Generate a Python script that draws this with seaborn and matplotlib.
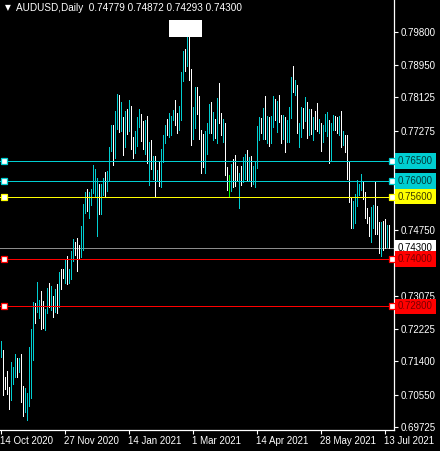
import numpy as np
import pandas as pd
import matplotlib
matplotlib.use("Agg")
import matplotlib.pyplot as plt
import matplotlib.transforms as mtransforms
from matplotlib.patches import Rectangle
import seaborn as sns

# Data (AUDUSD daily, high / low per bar)

highs = [
    0.7192, 0.7169, 0.7100, 0.7116, 0.7075, 0.7138, 0.7126, 0.7159, 0.7149, 0.7149,
    0.7159, 0.7077, 0.7072, 0.7059, 0.7177, 0.7223, 0.7291, 0.7289, 0.7342, 0.7296,
    0.7319, 0.7294, 0.7274, 0.7327, 0.7340, 0.7332, 0.7307, 0.7324, 0.7337, 0.7368,
    0.7375, 0.7375, 0.7398, 0.7409, 0.7375, 0.7421, 0.7452, 0.7444, 0.7454, 0.7437,
    0.7485, 0.7541, 0.7572, 0.7579, 0.7572, 0.7579, 0.7640, 0.7630, 0.7607, 0.7592,
    0.7592, 0.7607, 0.7622, 0.7625, 0.7686, 0.7742, 0.7742, 0.7778, 0.7821, 0.7819,
    0.7801, 0.7763, 0.7778, 0.7783, 0.7806, 0.7791, 0.7712, 0.7727, 0.7763, 0.7783,
    0.7770, 0.7752, 0.7755, 0.7765, 0.7699, 0.7704, 0.7663, 0.7663, 0.7628, 0.7648,
    0.7681, 0.7717, 0.7742, 0.7758, 0.7773, 0.7765, 0.7781, 0.7806, 0.7773, 0.7791,
    0.7877, 0.7931, 0.7936, 0.8007, 0.7967, 0.7885, 0.7788, 0.7839, 0.7839, 0.7816,
    0.7730, 0.7719, 0.7727, 0.7747, 0.7796, 0.7801, 0.7775, 0.7758, 0.7811, 0.7849,
    0.7773, 0.7758, 0.7747, 0.7635, 0.7615, 0.7643, 0.7656, 0.7666, 0.7638, 0.7620,
    0.7638, 0.7661, 0.7668, 0.7679, 0.7661, 0.7663, 0.7638, 0.7648, 0.7740, 0.7763,
    0.7760, 0.7786, 0.7816, 0.7765, 0.7763, 0.7765, 0.7816, 0.7809, 0.7803, 0.7819,
    0.7768, 0.7768, 0.7763, 0.7755, 0.7788, 0.7865, 0.7893, 0.7857, 0.7844, 0.7747,
    0.7788, 0.7786, 0.7814, 0.7801, 0.7783, 0.7783, 0.7763, 0.7778, 0.7798, 0.7758,
    0.7747, 0.7742, 0.7770, 0.7775, 0.7755, 0.7747, 0.7768, 0.7765, 0.7763, 0.7765,
    0.7778, 0.7727, 0.7717, 0.7717, 0.7648, 0.7559, 0.7549, 0.7567, 0.7602, 0.7592,
    0.7617, 0.7600, 0.7572, 0.7531, 0.7508, 0.7533, 0.7538, 0.7600, 0.7536, 0.7495,
    0.7495, 0.7498, 0.7503, 0.7487, 0.74872,
]
lows = [
    0.7151, 0.7054, 0.7070, 0.7057, 0.7019, 0.7042, 0.7082, 0.7100, 0.7100, 0.7113,
    0.7037, 0.7001, 0.7011, 0.6991, 0.7026, 0.7047, 0.7144, 0.7238, 0.7266, 0.7251,
    0.7223, 0.7225, 0.7220, 0.7263, 0.7279, 0.7271, 0.7253, 0.7266, 0.7263, 0.7279,
    0.7324, 0.7352, 0.7340, 0.7337, 0.7340, 0.7350, 0.7396, 0.7411, 0.7370, 0.7403,
    0.7406, 0.7424, 0.7518, 0.7523, 0.7505, 0.7538, 0.7569, 0.7559, 0.7460, 0.7516,
    0.7516, 0.7564, 0.7559, 0.7574, 0.7602, 0.7676, 0.7640, 0.7658, 0.7732, 0.7724,
    0.7727, 0.7666, 0.7686, 0.7719, 0.7727, 0.7681, 0.7658, 0.7671, 0.7689, 0.7737,
    0.7702, 0.7681, 0.7668, 0.7645, 0.7589, 0.7630, 0.7605, 0.7561, 0.7602, 0.7587,
    0.7584, 0.7648, 0.7696, 0.7717, 0.7712, 0.7717, 0.7755, 0.7742, 0.7722, 0.7730,
    0.7755, 0.7854, 0.7880, 0.7893, 0.7857, 0.7691, 0.7707, 0.7735, 0.7770, 0.7707,
    0.7620, 0.7635, 0.7620, 0.7668, 0.7722, 0.7722, 0.7704, 0.7709, 0.7696, 0.7747,
    0.7717, 0.7699, 0.7615, 0.7577, 0.7559, 0.7574, 0.7584, 0.7587, 0.7602, 0.7531,
    0.7589, 0.7597, 0.7605, 0.7602, 0.7602, 0.7587, 0.7592, 0.7584, 0.7633, 0.7704,
    0.7722, 0.7707, 0.7707, 0.7696, 0.7689, 0.7696, 0.7737, 0.7755, 0.7724, 0.7750,
    0.7696, 0.7707, 0.7673, 0.7699, 0.7699, 0.7760, 0.7826, 0.7819, 0.7722, 0.7686,
    0.7712, 0.7735, 0.7752, 0.7709, 0.7717, 0.7719, 0.7704, 0.7732, 0.7727, 0.7722,
    0.7676, 0.7699, 0.7727, 0.7714, 0.7645, 0.7651, 0.7730, 0.7730, 0.7722, 0.7717,
    0.7686, 0.7691, 0.7673, 0.7605, 0.7546, 0.7480, 0.7480, 0.7493, 0.7536, 0.7564,
    0.7577, 0.7554, 0.7505, 0.7493, 0.7460, 0.7444, 0.7480, 0.7465, 0.7465, 0.7416,
    0.7409, 0.7424, 0.7429, 0.7431, 0.74293,
]
# u = bullish bar, d = bearish bar, g = highlighted bar
directions = (
    "udddduuudu" "dduuuuuduu" "dduudududu" "dduduuuddd" "uuuduuuuud"
    "uuduuuduud" "udududduuu" "ddudududud" "uuuduuuddu" "uududduudd"
    "dduuududud" "duddgudddu" "duududuuuu" "dududuudud" "duduuududu"
    "ududududdu" "duuuduuddu" "dudddduuuu" "udddduuddd" "uddud"
)

date_ticks = [0, 32, 64, 96, 128, 160, 192]
date_labels = ["14 Oct 2020", "27 Nov 2020", "14 Jan 2021", "1 Mar 2021",
               "14 Apr 2021", "28 May 2021", "13 Jul 2021"]

price_ticks = [0.79800, 0.78950, 0.78125, 0.77275, 0.76425, 0.75575,
               0.74750, 0.73925, 0.73075, 0.72225, 0.71400, 0.70550, 0.69725]
# tick labels that sit under the price boxes are left blank
hidden_ticks = [0.76425, 0.75575, 0.73925]

level_prices = [0.765, 0.760, 0.756, 0.740, 0.728]
level_names = ["0.76500", "0.76000", "0.75600", "0.74000", "0.72800"]
level_colors = ["#00CED1", "#00CED1", "#FFFF00", "#FF0000", "#FF0000"]
level_text = ["#003b3c", "#003b3c", "#3a3a00", "#7a0000", "#7a0000"]

bid_price = 0.743
title = "AUDUSD,Daily  0.74779 0.74872 0.74293 0.74300"

df = pd.DataFrame({"high": highs, "low": lows, "dir": list(directions)})
df["bar"] = np.arange(len(df))
palette = {"u": "#00CED1", "d": "#FFFFFF", "g": "#00FF00"}

# Style
sns.set_theme(style="dark", rc={
    "axes.facecolor": "black",
    "figure.facecolor": "black",
    "axes.edgecolor": "white",
    "text.color": "white",
    "xtick.color": "white",
    "ytick.color": "white",
    "axes.grid": False,
})
plt.rcParams["font.family"] = ["Liberation Sans", "DejaVu Sans"]

fig = plt.figure(figsize=(4.4, 4.51), dpi=100)
ax = fig.add_axes([0, 21 / 451, 394 / 440, 430 / 451])

for d, grp in df.groupby("dir"):
    ax.vlines(grp["bar"], grp["low"], grp["high"], colors=palette[d], lw=0.7,
              antialiased=False, zorder=3)

ax.set_xlim(-0.25, 196.75)
ax.set_ylim(0.69652, 0.80608)

# horizontal levels
ax.axhline(bid_price, color="#8c8c8c", lw=0.7, antialiased=False, zorder=2)
for p, c in zip(level_prices, level_colors):
    ax.axhline(p, color=c, lw=0.7, antialiased=False, zorder=4)
    ax.plot([0.01, 0.994], [p, p], ls="none", marker="s", ms=4, mfc="white",
            mec=c, mew=0.9, transform=ax.get_yaxis_transform(), clip_on=False, zorder=6)

# white box at the top
ax.add_patch(Rectangle((84, 0.79665), 16.5, 0.00433, facecolor="white",
                       edgecolor="none", zorder=7))

# axes / ticks
for s in ["top", "left"]:
    ax.spines[s].set_visible(False)
for s in ["right", "bottom"]:
    ax.spines[s].set_color("white")
    ax.spines[s].set_linewidth(0.9)

ax.yaxis.tick_right()
ax.set_yticks(price_ticks)
ax.set_yticklabels(["" if t in hidden_ticks else f"{t:.5f}" for t in price_ticks])
ax.tick_params(axis="y", right=True, length=3, width=0.8, pad=2, labelsize=7, colors="white")
ax.set_xticks(date_ticks)
ax.set_xticklabels(date_labels)
ax.tick_params(axis="x", bottom=True, length=3, width=0.8, pad=1.5, labelsize=7, colors="white")
for lab in ax.get_xticklabels():
    lab.set_ha("left")

# price labels on the right
trans = mtransforms.blended_transform_factory(ax.transAxes, ax.transData)
ax.text(1.01, bid_price, "0.74300", transform=trans, ha="left", va="center",
        fontsize=7, color="black", zorder=10, clip_on=False,
        bbox=dict(boxstyle="square,pad=0.3", fc="white", ec="none"))
for p, name, c, tc in zip(level_prices, level_names, level_colors, level_text):
    ax.text(1.01, p, name, transform=trans, ha="left", va="center",
            fontsize=7, color=tc, zorder=10, clip_on=False,
            bbox=dict(boxstyle="square,pad=0.3", fc=c, ec="none"))

# header
fig.text(5 / 440, 1 - 8 / 451, "\u25BC", fontsize=5.5, color="white", va="center", ha="left",
         family=["DejaVu Sans"])
fig.text(16 / 440, 1 - 8 / 451, title, fontsize=7.2, color="white", va="center", ha="left")

fig.savefig("out.png", dpi=100, facecolor="black")
